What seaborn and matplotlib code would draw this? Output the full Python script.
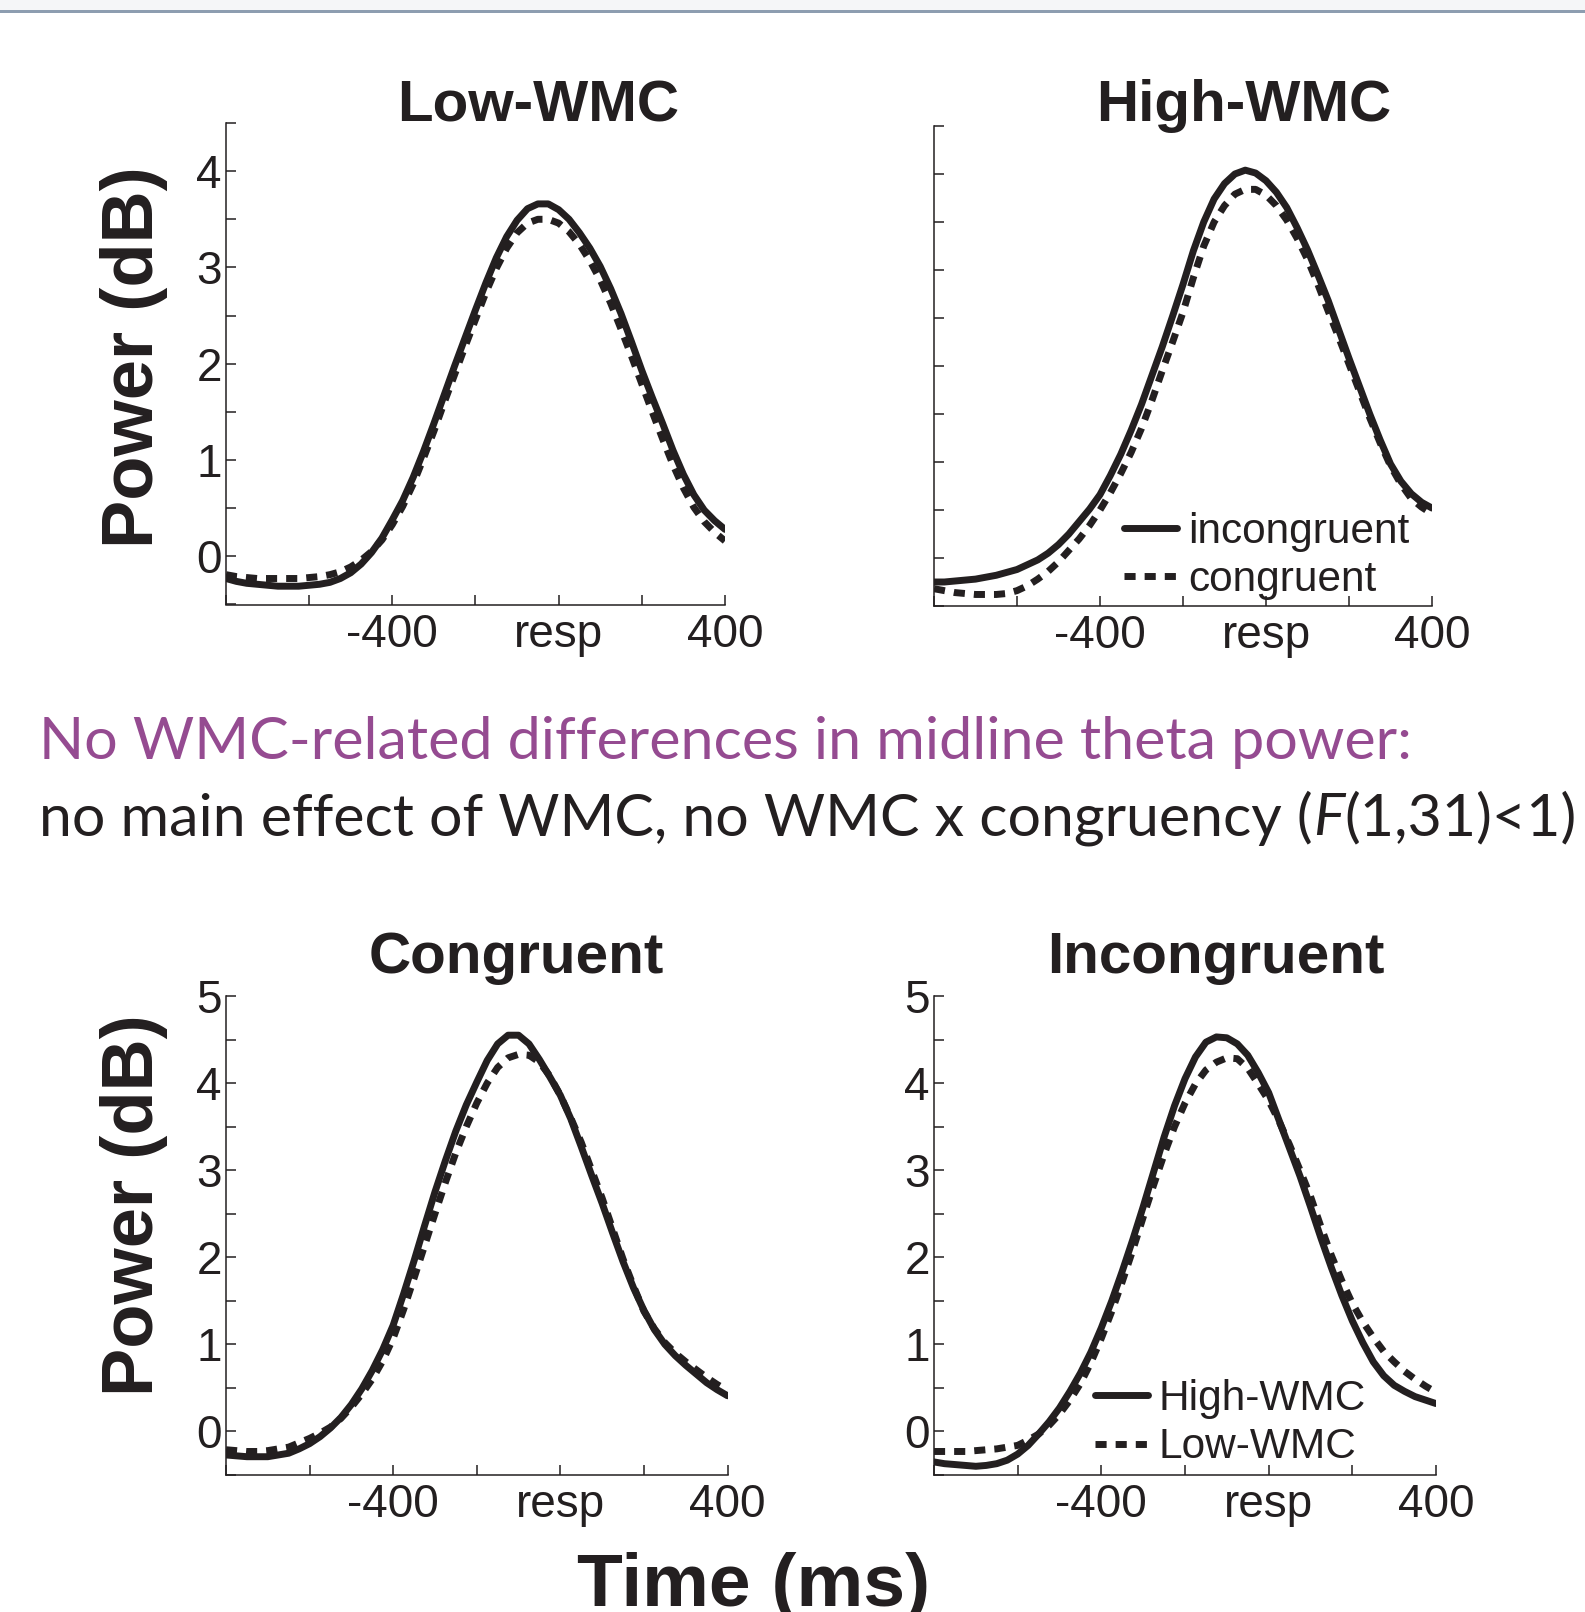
import numpy as np
import pandas as pd
import matplotlib
matplotlib.use("Agg")
import matplotlib.pyplot as plt
import seaborn as sns
from matplotlib.lines import Line2D
from matplotlib.patches import Rectangle

# time axis, ms relative to response
times = list(range(-800, 401, 25))

# Low-WMC panel: incongruent (solid) / congruent (dashed)
low_incong = [-0.23, -0.26, -0.28, -0.29, -0.30, -0.31, -0.31, -0.31, -0.30, -0.29, -0.27, -0.23, -0.17,
              -0.08, 0.04, 0.19, 0.38, 0.58, 0.82, 1.09, 1.38, 1.68, 1.98, 2.27, 2.56, 2.84, 3.10,
              3.32, 3.49, 3.61, 3.66, 3.66, 3.60, 3.50, 3.36, 3.20, 3.01, 2.78, 2.52, 2.23, 1.93,
              1.65, 1.38, 1.10, 0.85, 0.64, 0.48, 0.37, 0.28]
low_cong = [-0.19, -0.21, -0.22, -0.23, -0.23, -0.23, -0.23, -0.23, -0.22, -0.21, -0.19, -0.16, -0.11,
            -0.04, 0.05, 0.17, 0.33, 0.52, 0.75, 1.02, 1.30, 1.60, 1.89, 2.18, 2.46, 2.74, 2.99,
            3.20, 3.36, 3.46, 3.50, 3.50, 3.46, 3.37, 3.24, 3.07, 2.87, 2.63, 2.36, 2.08, 1.79,
            1.50, 1.22, 0.95, 0.71, 0.51, 0.36, 0.25, 0.16]

# High-WMC panel
high_incong = [-0.25, -0.25, -0.24, -0.23, -0.22, -0.20, -0.18, -0.15, -0.12, -0.07, -0.02, 0.05, 0.14,
               0.25, 0.38, 0.51, 0.66, 0.86, 1.08, 1.33, 1.60, 1.90, 2.20, 2.52, 2.85, 3.20, 3.50,
               3.74, 3.90, 4.00, 4.04, 4.01, 3.93, 3.81, 3.65, 3.44, 3.21, 2.95, 2.68, 2.38, 2.08,
               1.79, 1.50, 1.23, 0.98, 0.80, 0.67, 0.58, 0.52]
high_cong = [-0.32, -0.34, -0.36, -0.37, -0.38, -0.38, -0.38, -0.37, -0.34, -0.29, -0.22, -0.14, -0.04,
             0.08, 0.20, 0.34, 0.50, 0.68, 0.88, 1.10, 1.35, 1.64, 1.95, 2.25, 2.56, 2.92, 3.25,
             3.50, 3.67, 3.79, 3.84, 3.84, 3.78, 3.67, 3.52, 3.33, 3.11, 2.85, 2.57, 2.30, 2.02,
             1.74, 1.46, 1.20, 0.96, 0.77, 0.62, 0.53, 0.46]

# Congruent panel: High-WMC (solid) / Low-WMC (dashed)
cong_high = [-0.27, -0.28, -0.29, -0.29, -0.29, -0.27, -0.25, -0.20, -0.14, -0.06, 0.04, 0.16, 0.31,
             0.49, 0.70, 0.94, 1.22, 1.58, 1.96, 2.36, 2.75, 3.11, 3.45, 3.75, 4.01, 4.26, 4.45,
             4.55, 4.55, 4.45, 4.27, 4.07, 3.86, 3.59, 3.27, 2.94, 2.62, 2.28, 1.95, 1.65, 1.39,
             1.17, 1.00, 0.87, 0.76, 0.66, 0.56, 0.48, 0.41]
cong_low = [-0.21, -0.22, -0.23, -0.23, -0.22, -0.20, -0.18, -0.13, -0.08, -0.02, 0.05, 0.15, 0.28,
            0.43, 0.60, 0.81, 1.07, 1.40, 1.76, 2.13, 2.50, 2.86, 3.20, 3.50, 3.77, 4.00, 4.18,
            4.29, 4.33, 4.32, 4.24, 4.08, 3.86, 3.60, 3.32, 3.00, 2.68, 2.33, 1.98, 1.67, 1.38,
            1.18, 1.02, 0.90, 0.80, 0.71, 0.62, 0.54, 0.47]

# Incongruent panel
incong_high = [-0.35, -0.37, -0.38, -0.39, -0.40, -0.39, -0.37, -0.33, -0.26, -0.16, -0.03, 0.11, 0.27,
               0.46, 0.67, 0.91, 1.19, 1.50, 1.84, 2.20, 2.58, 2.98, 3.38, 3.74, 4.05, 4.30, 4.47,
               4.53, 4.52, 4.45, 4.32, 4.12, 3.89, 3.57, 3.25, 2.93, 2.58, 2.22, 1.88, 1.56, 1.27,
               1.02, 0.80, 0.64, 0.53, 0.46, 0.40, 0.36, 0.32]
incong_low = [-0.23, -0.23, -0.23, -0.23, -0.22, -0.21, -0.20, -0.18, -0.16, -0.10, -0.03, 0.07, 0.20,
              0.36, 0.55, 0.79, 1.07, 1.38, 1.72, 2.08, 2.46, 2.83, 3.18, 3.50, 3.77, 3.99, 4.15,
              4.24, 4.29, 4.28, 4.17, 3.99, 3.80, 3.56, 3.29, 3.00, 2.70, 2.35, 2.02, 1.73, 1.47,
              1.26, 1.08, 0.92, 0.80, 0.69, 0.60, 0.52, 0.45]

xtick_vals = [-800, -600, -400, -200, 0, 200, 400]
xtick_labels = ["", "", "-400", "", "resp", "", "400"]

INK = "#231f20"
PURPLE = "#954b91"
W, H = 1585, 1612

sns.set_theme(style="ticks")
plt.rcParams["font.family"] = ["Liberation Sans", "DejaVu Sans"]

fig = plt.figure(figsize=(W / 100, H / 100), dpi=100)


def px(x0, y0, x1, y1):
    # pixel box -> figure fraction rect
    return [x0 / W, 1 - y1 / H, (x1 - x0) / W, (y1 - y0) / H]


# name, solid label, dashed label, solid, dashed, ylim, show ytick labels, axes box, title pos, legend anchor
panels = [
    ("Low-WMC", "incongruent", "congruent", low_incong, low_cong, (-0.5, 4.5), True,
     (226, 123, 725, 604.5), (538, 121), None),
    ("High-WMC", "incongruent", "congruent", high_incong, high_cong, (-0.5, 4.5), False,
     (934, 126, 1432, 606), (1244, 121), (0.382, 0.012)),
    ("Congruent", "High-WMC", "Low-WMC", cong_high, cong_low, (-0.5, 5.0), True,
     (226, 996, 727.5, 1475), (516, 973), None),
    ("Incongruent", "High-WMC", "Low-WMC", incong_high, incong_low, (-0.5, 5.0), True,
     (934, 996, 1436, 1475), (1216, 973), (0.32, 0.016)),
]

dash = (1.6, 1.3)

for title, lab_s, lab_d, ys, yd, ylim, ylab, box, tpos, legpos in panels:
    ax = fig.add_axes(px(*box))
    df = pd.DataFrame({
        "time": times * 2,
        "power": ys + yd,
        "series": [lab_s] * len(times) + [lab_d] * len(times),
    })
    sns.lineplot(data=df, x="time", y="power", style="series",
                 dashes={lab_s: "", lab_d: dash}, color=INK, linewidth=5,
                 legend=False, ax=ax)
    ax.set_xlim(-800, 400)
    ax.set_ylim(*ylim)
    ax.set_xticks(xtick_vals)
    ax.set_xticklabels(xtick_labels)
    yt = np.arange(ylim[0], ylim[1] + 0.01, 0.5)
    ax.set_yticks(yt)
    if ylab:
        ax.set_yticklabels([f"{v:.0f}" if abs(v - round(v)) < 1e-6 and v >= 0 else "" for v in yt])
    else:
        ax.set_yticklabels([])
    ax.set_xlabel("")
    ax.set_ylabel("")
    sns.despine(ax=ax)
    for s in ["left", "bottom"]:
        ax.spines[s].set_color(INK)
        ax.spines[s].set_linewidth(1.1)
    ax.tick_params(direction="in", length=7.5, width=1.1, color=INK,
                   labelsize=33, labelcolor=INK)
    ax.tick_params(axis="x", pad=6)
    ax.tick_params(axis="y", pad=3)
    fig.text(tpos[0] / W, 1 - tpos[1] / H, title, ha="center", va="baseline",
             fontsize=42, fontweight="bold", color=INK)
    if legpos is not None:
        handles = [Line2D([], [], color=INK, lw=5, label=lab_s),
                   Line2D([], [], color=INK, lw=5, ls=(0, dash), label=lab_d)]
        ax.legend(handles=handles, loc="lower left", bbox_to_anchor=legpos,
                  frameon=False, fontsize=30.5, handlelength=1.25, handletextpad=0.25,
                  labelspacing=0.2, borderpad=0, borderaxespad=0,
                  labelcolor=INK)

# y labels and x label
for yc in (357, 1205):
    fig.text(134 / W, 1 - yc / H, "Power (dB)", rotation=90, ha="center", va="center",
             fontsize=52, fontweight="bold", color=INK)
fig.text(754 / W, 1 - 1606 / H, "Time (ms)", ha="center", va="baseline",
         fontsize=54, fontweight="bold", color=INK)

# middle statement
fig.text(39 / W, 1 - 759 / H, "No WMC-related differences in midline theta power:",
         ha="left", va="baseline", fontsize=42.7, color=PURPLE, family="Lato")
fs2 = 42.6
t1 = fig.text(39 / W, 1 - 835 / H, "no main effect of WMC, no WMC x congruency (",
              ha="left", va="baseline", fontsize=fs2, color=INK, family="Lato")
fig.canvas.draw()
r = fig.canvas.get_renderer()
x1 = t1.get_window_extent(r).x1 / fig.bbox.width
t2 = fig.text(x1, 1 - 835 / H, "F", ha="left", va="baseline", fontsize=fs2, color=INK,
              family="Lato", style="italic")
fig.canvas.draw()
x2 = t2.get_window_extent(r).x1 / fig.bbox.width
fig.text(x2, 1 - 835 / H, "(1,31)<1)", ha="left", va="baseline", fontsize=fs2, color=INK,
         family="Lato")

# header strip at the very top
fig.add_artist(Rectangle((0, 1 - 10 / H), 1, 10 / H, transform=fig.transFigure,
                         facecolor="#f5f6f8", edgecolor="none"))
fig.add_artist(Rectangle((0, 1 - 13 / H), 1, 3 / H, transform=fig.transFigure,
                         facecolor="#8d9db0", edgecolor="none"))

fig.savefig("out.png", dpi=100)
